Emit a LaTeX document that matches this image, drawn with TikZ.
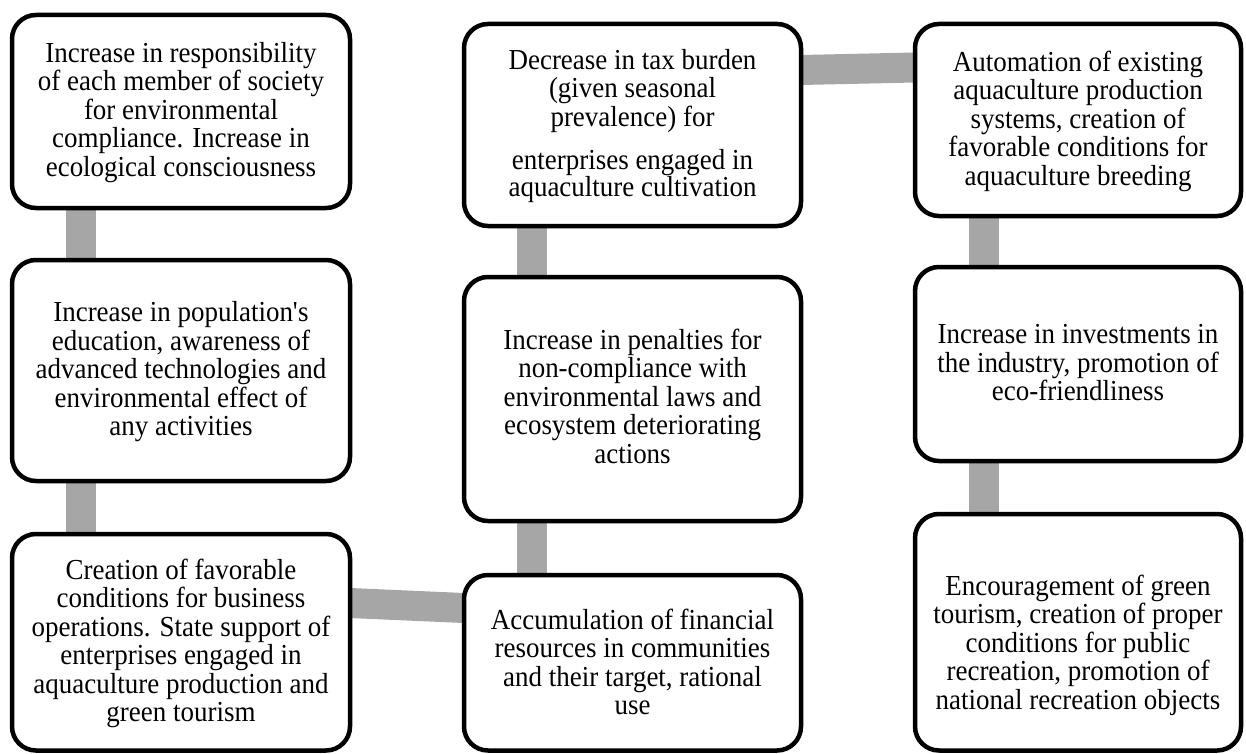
\documentclass[tikz,border=0pt]{standalone}
\usepackage{fontspec}
\setmainfont{Liberation Serif}[FakeStretch=0.93]
\usetikzlibrary{backgrounds}
\definecolor{bargray}{HTML}{A6A6A6}
\begin{document}
\begin{tikzpicture}[x=1pt,y=-1pt,
  box/.style={draw=black, line width=4.5pt, rounded corners=24pt, fill=white,
              inner sep=0pt, outer sep=0pt},
  txt/.style={align=center, inner sep=0pt, text=black,
              font=\fontsize{29}{28.5}\selectfont},
  bar/.style={draw=bargray, line width=30pt}]
\useasboundingbox (0,0) rectangle (1246,754);

% left column
\node[box, minimum width=338pt, minimum height=193pt]   (l1) at (181,111.5)  {};
\node[box, minimum width=338pt, minimum height=221pt]   (l2) at (181,370.5)  {};
\node[box, minimum width=338pt, minimum height=216.5pt] (l3) at (181,642.25) {};
% middle column
\node[box, minimum width=337pt, minimum height=202pt]   (m1) at (632.5,125)    {};
\node[box, minimum width=337pt, minimum height=244pt]   (m2) at (632.5,399)    {};
\node[box, minimum width=337pt, minimum height=175.5pt] (m3) at (632.5,662.75) {};
% right column
\node[box, minimum width=326pt, minimum height=192pt]   (r1) at (1078,120)    {};
\node[box, minimum width=326pt, minimum height=194pt]   (r2) at (1078,364)    {};
\node[box, minimum width=326pt, minimum height=236.5pt] (r3) at (1078,632.25) {};

% texts
\node[txt] (l1t) at (181,112.5) {Increase in responsibility\\of each member of society\\for environmental\\compliance. Increase in\\ecological consciousness};
\node[txt] (l2t) at (181,372) {Increase in population\textquotesingle s\\education, awareness of\\advanced technologies and\\environmental effect of\\any activities};
\node[txt] (l3t) at (181,643.5) {Creation of favorable\\conditions for business\\operations. State support of\\enterprises engaged in\\aquaculture production and\\green tourism};
\node[txt] (m1t) at (632.5,126) {Decrease in tax burden\\(given seasonal\\prevalence) for\\[15pt]enterprises engaged in\\[-1.5pt]aquaculture cultivation};
\node[txt] (m2t) at (632.5,396) {Increase in penalties for\\non-compliance with\\environmental laws and\\ecosystem deteriorating\\actions};
\node[txt] (m3t) at (632.5,662) {Accumulation of financial\\resources in communities\\and their target, rational\\use};
\node[txt] (r1t) at (1078,121) {Automation of existing\\aquaculture production\\systems, creation of\\favorable conditions for\\aquaculture breeding};
\node[txt] (r2t) at (1078,363) {Increase in investments in\\the industry, promotion of\\eco-friendliness};
\node[txt] (r3t) at (1078,645) {Encouragement of green\\tourism, creation of proper\\conditions for public\\recreation, promotion of\\national recreation objects};

% grey links behind the boxes
\begin{scope}[on background layer]
  \draw[bar] ([xshift=68.5pt]l1.south west) -- ([xshift=68.5pt]l2.north west);
  \draw[bar] ([xshift=68.5pt]l2.south west) -- ([xshift=68.5pt]l3.north west);
  \draw[bar] ([yshift=-69pt]l3.north east) -- ([yshift=-33pt]m3.north west);
  \draw[bar] ([xshift=68pt]m3.north west) -- ([xshift=68pt]m2.south west);
  \draw[bar] ([xshift=68pt]m2.north west) -- ([xshift=68pt]m1.south west);
  \draw[bar] ([yshift=-46pt]m1.north east) -- ([yshift=-43.5pt]r1.north west);
  \draw[bar] ([xshift=68.5pt]r1.south west) -- ([xshift=68.5pt]r2.north west);
  \draw[bar] ([xshift=68.5pt]r2.south west) -- ([xshift=68.5pt]r3.north west);
\end{scope}
\end{tikzpicture}
\end{document}
